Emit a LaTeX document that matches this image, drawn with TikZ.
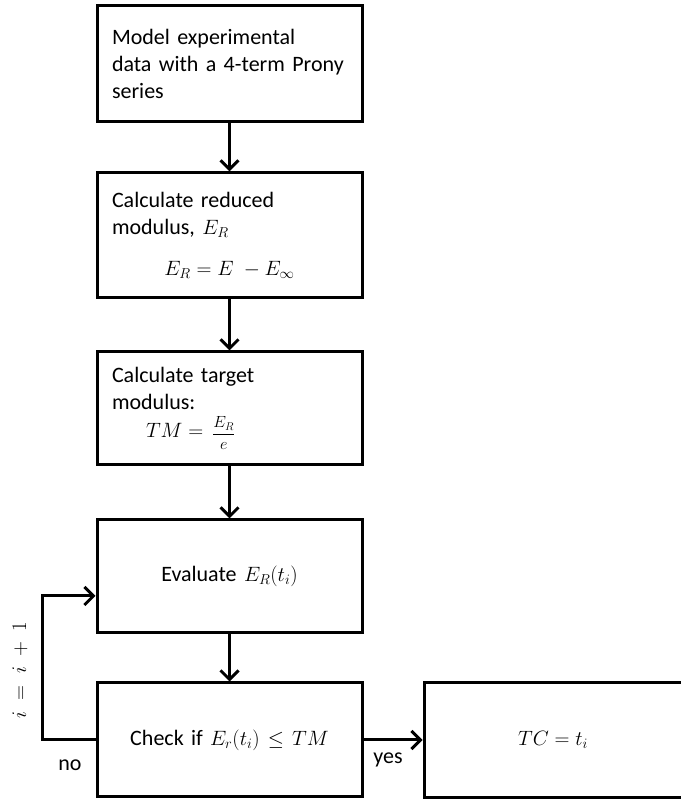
\documentclass[tikz,border=0pt]{standalone}
\usepackage{amsmath,amssymb}
\usepackage{graphicx}
\usepackage{fontspec}
\setmainfont{Carlito}
\usetikzlibrary{arrows.meta}

\begin{document}
\begin{tikzpicture}[x=1pt,y=1pt,
  font=\fontsize{22}{27}\selectfont,
  box/.style={draw,line width=3pt,minimum width=265pt,inner sep=0pt,text width=235pt,align=left},
  endbox/.style={draw,line width=3pt,minimum width=258pt,minimum height=115pt,inner sep=0pt},
  arrow/.style={line width=3pt,-{Straight Barb[length=9pt,width=18pt,line width=3pt]}}]

\useasboundingbox (0,0) rectangle (680,799);

\coordinate (c1) at (229.5,735);
\coordinate (c2) at (229.5,563.5);
\coordinate (c3) at (229.5,390.5);
\coordinate (c4) at (229.5,222.5);
\coordinate (c5) at (229.5,59);
\coordinate (c6) at (553,59);

% tocka zanke
\coordinate (lp) at (42,203);

\node[box,minimum height=116pt] (b1) at (c1) {Model experimental\\data with a 4-term Prony\\series};
\node[box,minimum height=125pt] (b2) at (c2) {Calculate reduced\\modulus, $E_R$\\[14pt]\makebox[235pt][c]{$E_R = E\;-E_\infty$}};
\node[box,minimum height=113pt] (b3) at (c3) {Calculate target\\modulus:\\[1pt]\hspace*{34pt}$TM = \,\raisebox{-1pt}{\scalebox{0.78}{$\dfrac{E_R}{e}$}}$};
\node[box,minimum height=113pt,align=center] (b4) at (c4) {Evaluate $E_R(t_i)$};
\node[box,minimum height=114pt,align=center] (b5) at (c5) {Check if $E_r(t_i) \le TM$};
\node[endbox] (b6) at (c6) {$TC = t_i$};

\draw[arrow] (b1)--(b2);
\draw[arrow] (b2)--(b3);
\draw[arrow] (b3)--(b4);
\draw[arrow] (b4)--(b5);
\draw[arrow] (b5.west) -| (lp) -- (lp -| b4.west);
\draw[arrow] (b5.east)--(b6.west);

\node[rotate=90] (inc) at (20,129) {$i \;=\; i \;+\; 1$};
\node (no) at (70,34) {no};
\node (yes) at (388,39) {yes};
\end{tikzpicture}
\end{document}
